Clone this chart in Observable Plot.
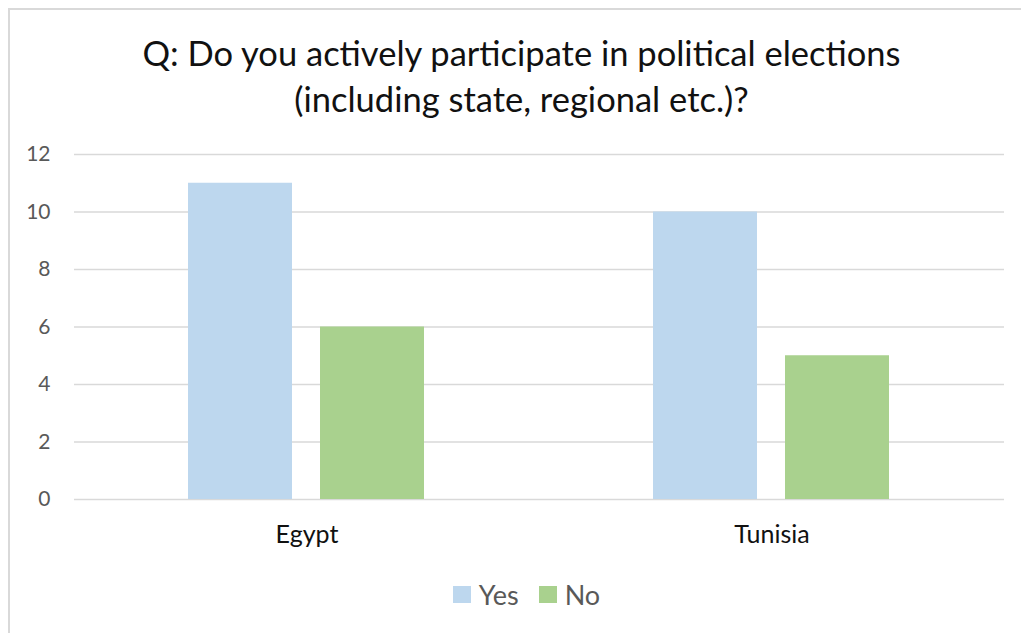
<!DOCTYPE html>
<html>
<head>
<meta charset="utf-8">
<script src="https://cdn.jsdelivr.net/npm/d3@7"></script>
<script src="https://cdn.jsdelivr.net/npm/@observablehq/plot@0.6"></script>
<style>
  html, body { margin: 0; padding: 0; background: #fff; width: 1021px; height: 633px; overflow: hidden; }
  body { font-family: Lato, "Open Sans", sans-serif; position: relative; }
  #frame { position: absolute; left: 8px; top: 8px; width: 1100px; height: 700px; border-left: 2px solid #d9d9d9; border-top: 2px solid #d9d9d9; box-sizing: border-box; }
  #title { position: absolute; left: 0; top: 30px; width: 1043px; text-align: center; font-size: 34.5px; line-height: 46px; color: #111; }
  #chart { position: absolute; left: 0; top: 130px; }
  #legend { position: absolute; left: 0; top: 578px; width: 1053px; display: flex; justify-content: center; align-items: center; font-size: 27px; color: #595959; }
  .sw { display: inline-block; width: 18px; height: 17px; margin-right: 8px; }
  .item { display: flex; align-items: center; margin: 0 10px; }
</style>
</head>
<body>
<div id="frame"></div>
<div id="title">Q: Do you actively participate in political elections<br>(including state, regional etc.)?</div>
<div id="chart"></div>
<div id="legend"></div>
<script>
const countries = ["Egypt", "Tunisia"];
const answers = ["Yes", "No"];
const yesValues = [11, 10];
const noValues = [6, 5];
const yTicks = [0, 2, 4, 6, 8, 10, 12];
const colors = ["#BDD7EE", "#A9D18E"];

const data = [];
countries.forEach((c, i) => {
  data.push({country: c, answer: answers[0], value: yesValues[i]});
  data.push({country: c, answer: answers[1], value: noValues[i]});
});

const chart = Plot.plot({
  width: 1021,
  height: 430,
  marginTop: 24,
  marginBottom: 61,
  marginLeft: 73,
  marginRight: 17,
  style: {fontFamily: "Lato, 'Open Sans', sans-serif", background: "transparent"},
  fx: {domain: countries, padding: 0},
  x: {domain: answers, paddingInner: 0.212, paddingOuter: 0.8655, axis: null},
  y: {domain: [0, 12], axis: null},
  color: {domain: answers, range: colors},
  marks: [
    Plot.ruleY(yTicks, {stroke: "#d9d9d9", strokeWidth: 1.6}),
    Plot.barY(data, {fx: "country", x: "answer", y: "value", fill: "answer"}),
    Plot.axisY({ticks: yTicks, tickSize: 0, tickPadding: 24, fontSize: 21, color: "#595959", label: null}),
    Plot.axisFx({anchor: "bottom", tickSize: 0, tickPadding: 26, fontSize: 25, color: "#111", label: null})
  ]
});
document.getElementById("chart").appendChild(chart);

const legend = document.getElementById("legend");
answers.forEach((a, i) => {
  const item = document.createElement("div");
  item.className = "item";
  const sw = document.createElement("span");
  sw.className = "sw";
  sw.style.background = colors[i];
  item.appendChild(sw);
  const t = document.createElement("span");
  t.textContent = a;
  item.appendChild(t);
  legend.appendChild(item);
});
</script>
</body>
</html>
